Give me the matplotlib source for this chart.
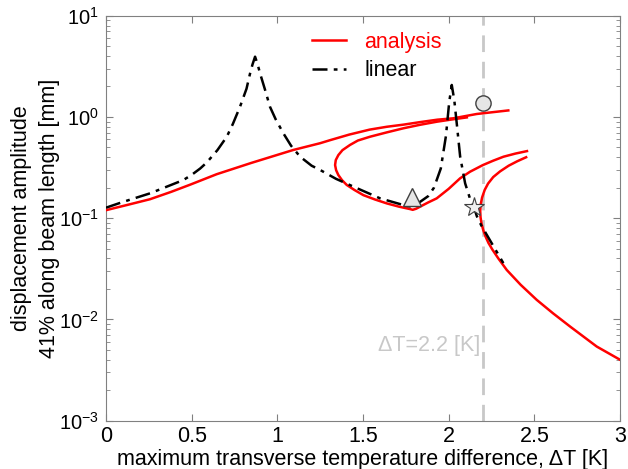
"""
Displacement amplitude vs transverse temperature difference (log scale).
"""

import matplotlib
matplotlib.use("Agg")
import matplotlib.pyplot as plt
from matplotlib.ticker import LogLocator, MultipleLocator

plt.rcParams["font.family"] = ["Liberation Sans", "DejaVu Sans"]
plt.rcParams["mathtext.fontset"] = "custom"
plt.rcParams["mathtext.rm"] = "Liberation Sans"

FS = 15.5

# ---- data ---------------------------------------------------------
linear_x = [0.0, 0.1, 0.257, 0.451, 0.5, 0.55, 0.588, 0.65, 0.705, 0.74,
            0.782, 0.82, 0.841, 0.855, 0.870, 0.885, 0.899, 0.928, 0.957,
            0.99, 1.035, 1.08, 1.133, 1.2, 1.249, 1.342, 1.444, 1.6, 1.755,
            1.79, 1.833, 1.88, 1.914, 1.954, 1.984, 2.003, 2.018, 2.033,
            2.047, 2.067, 2.096, 2.125, 2.148, 2.164, 2.19, 2.25, 2.319]
linear_y = [0.127, 0.145, 0.176, 0.238, 0.268, 0.31, 0.355, 0.47, 0.638,
            0.85, 1.26, 1.9, 2.7, 3.3, 3.94, 3.3, 2.7, 1.86, 1.26,
            0.95, 0.69, 0.52, 0.405, 0.33, 0.30, 0.245, 0.205, 0.157, 0.132,
            0.13, 0.145, 0.165, 0.2, 0.31, 0.65, 1.4, 2.07, 1.45,
            0.865, 0.405, 0.221, 0.155, 0.128, 0.105, 0.085, 0.057, 0.036]

# analysis: three separate solution branches
branch_a_x = [0.0, 0.13, 0.257, 0.38, 0.493, 0.646, 0.849, 1.093, 1.249,
              1.308, 1.42, 1.539, 1.639, 1.737, 1.834, 1.934, 2.027, 2.164,
              2.348]
branch_a_y = [0.120, 0.136, 0.154, 0.182, 0.215, 0.272, 0.352, 0.472, 0.55,
              0.59, 0.67, 0.75, 0.80, 0.84, 0.89, 0.94, 0.97, 1.07, 1.16]

branch_b_x = [2.106, 2.02, 1.930, 1.83, 1.736, 1.64, 1.541, 1.47, 1.424,
              1.38, 1.356, 1.341, 1.337, 1.343, 1.356, 1.377, 1.405, 1.45,
              1.502, 1.57, 1.639, 1.71, 1.775, 1.79, 1.81, 1.833, 1.88,
              1.930, 2.0, 2.067, 2.125, 2.2, 2.26, 2.32, 2.39, 2.457]
branch_b_y = [0.99, 0.945, 0.897, 0.835, 0.773, 0.705, 0.638, 0.585, 0.529,
              0.47, 0.42, 0.375, 0.335, 0.298, 0.267, 0.238, 0.213, 0.19,
              0.169, 0.153, 0.140, 0.13, 0.123, 0.121, 0.124, 0.13, 0.143,
              0.157, 0.195, 0.248, 0.288, 0.335, 0.37, 0.405, 0.435, 0.46]

branch_c_x = [2.452, 2.40, 2.35, 2.30, 2.26, 2.23, 2.21, 2.195, 2.187,
              2.184, 2.186, 2.192, 2.202, 2.215, 2.232, 2.255, 2.29, 2.339,
              2.42, 2.514, 2.609, 2.709, 2.864, 3.0]
branch_c_y = [0.40, 0.365, 0.33, 0.29, 0.255, 0.22, 0.19, 0.16, 0.137,
              0.118, 0.102, 0.088, 0.076, 0.066, 0.057, 0.049, 0.04, 0.0308,
              0.022, 0.0156, 0.0115, 0.0085, 0.0054, 0.0040]

# marked states
circle_pt = (2.2, 1.36)
triangle_pt = (1.785, 0.161)
star_pt = (2.148, 0.128)

DT_LINE = 2.2

RED = "#ff0000"
GREY = "#808080"

fig = plt.figure(figsize=(6.28, 4.69), dpi=100)
ax = fig.add_axes([0.1688, 0.103, 0.8185, 0.8635])

ax.axvline(DT_LINE, color="#c8c8c8", lw=2, ls=(0, (6, 3.5)), zorder=1)

ax.plot(branch_a_x, branch_a_y, color=RED, lw=1.8, label="analysis", zorder=3)
ax.plot(branch_b_x, branch_b_y, color=RED, lw=1.8, zorder=3)
ax.plot(branch_c_x, branch_c_y, color=RED, lw=1.8, zorder=3)
ax.plot(linear_x, linear_y, color="black", lw=1.8,
        ls=(0, (6, 2.5, 1.5, 2.5)), label="linear", zorder=4)

ax.plot(*circle_pt, "o", ms=11, mfc="#e6e6e6", mec="#404040", mew=1, zorder=5)
ax.plot(*triangle_pt, "^", ms=13, mfc="#e6e6e6", mec="#404040", mew=1, zorder=5)
ax.plot(*star_pt, "*", ms=15, mfc="#f0f0f0", mec="#404040", mew=0.8, zorder=5)

ax.text(2.185, 10 ** -2.26, "ΔT=2.2 [K]", color="#c8c8c8", fontsize=FS,
        ha="right", va="center")

ax.set_yscale("log")
ax.set_xlim(0, 3)
ax.set_ylim(1e-3, 1e1)
ax.xaxis.set_major_locator(MultipleLocator(0.5))
ax.yaxis.set_major_locator(LogLocator(base=10, numticks=10))
ax.yaxis.set_minor_locator(LogLocator(base=10, subs=range(2, 10), numticks=50))
ax.set_xticks([0, 0.5, 1, 1.5, 2, 2.5, 3])
ax.set_xticklabels(["0", "0.5", "1", "1.5", "2", "2.5", "3"])

ax.tick_params(which="both", direction="in", top=True, right=True,
               color=GREY, labelsize=FS, pad=4)
ax.tick_params(axis="y", labelsize=14.5, pad=5)
ax.tick_params(which="major", length=5)
ax.tick_params(which="minor", length=3)
for sp in ax.spines.values():
    sp.set_color(GREY)

ax.set_xlabel("maximum transverse temperature difference, ΔT [K]",
              fontsize=FS, labelpad=1)
ax.set_ylabel("displacement amplitude\n41% along beam length [mm]",
              fontsize=FS, labelpad=-1, linespacing=1.45)

leg = ax.legend(loc="upper left", bbox_to_anchor=(0.40, 0.96), frameon=False,
                fontsize=FS, handlelength=1.6, handletextpad=0.85,
                borderpad=0, borderaxespad=0, labelspacing=0.35)
leg.get_texts()[0].set_color(RED)

fig.savefig("out.png", dpi=100)
